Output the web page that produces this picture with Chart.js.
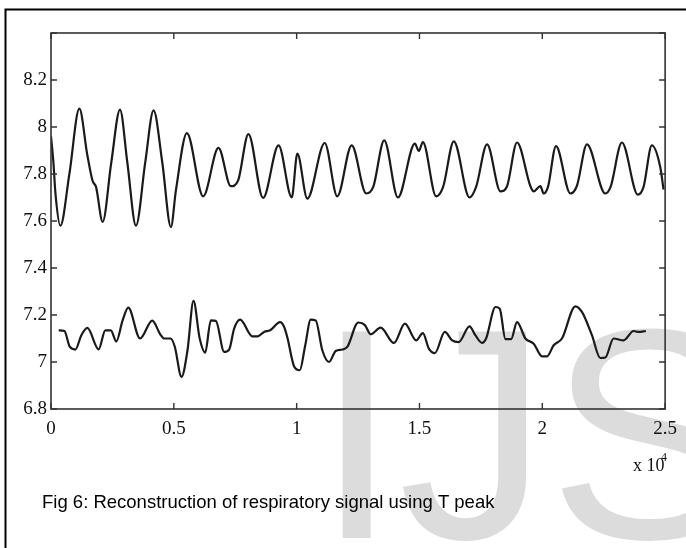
<!DOCTYPE html>
<html>
<head>
<meta charset="utf-8">
<script src="https://cdn.jsdelivr.net/npm/chart.js@4/dist/chart.umd.min.js"></script>
<style>
  html, body { margin: 0; padding: 0; background: #fff; }
  #wrap { width: 686px; height: 548px; position: relative; }
</style>
</head>
<body>
<div id="wrap"><canvas id="c" width="686" height="548"></canvas></div>
<script>
// Sample positions (samples) and values of the two reconstructed signals
const topX = [0, 98, 179, 382, 748, 1154, 1480, 1695, 1833, 2102, 2455, 2809, 3106, 3459, 3837, 4175, 4529, 4882, 5085, 5532, 6195, 6817, 7321, 7618, 8037, 8634, 9264, 9801, 10028, 10435, 11142, 11654, 12240, 12833, 13118, 13565, 14122, 14813, 14976, 15138, 15679, 15963, 16398, 17036, 17305, 17752, 18297, 18565, 18971, 19516, 19650, 19922, 20056, 20231, 20557, 21142, 21410, 21817, 22565, 22780, 23240, 23890, 24122, 24459, 24801, 24935];
const topY = [7.96, 7.85, 7.72, 7.58, 7.80, 8.078, 7.88, 7.77, 7.745, 7.596, 7.85, 8.074, 7.85, 7.58, 7.85, 8.071, 7.85, 7.574, 7.73, 7.974, 7.705, 7.911, 7.748, 7.773, 7.97, 7.698, 7.922, 7.70, 7.887, 7.695, 7.932, 7.705, 7.922, 7.717, 7.745, 7.943, 7.70, 7.929, 7.898, 7.936, 7.705, 7.745, 7.939, 7.70, 7.745, 7.926, 7.726, 7.748, 7.934, 7.748, 7.726, 7.748, 7.717, 7.745, 7.919, 7.717, 7.75, 7.926, 7.717, 7.745, 7.934, 7.712, 7.745, 7.922, 7.83, 7.734];
const bottomX = [313, 545, 768, 992, 1236, 1480, 1939, 2211, 2435, 2659, 2915, 3146, 3626, 4122, 4447, 4610, 4866, 5037, 5313, 5557, 5801, 6053, 6276, 6508, 6711, 7049, 7252, 7455, 7699, 8199, 8402, 8675, 8919, 9325, 9488, 9622, 9894, 10126, 10341, 10573, 10776, 11045, 11317, 11590, 11858, 12061, 12508, 12780, 13012, 13419, 13959, 14406, 14866, 15138, 15382, 15626, 16032, 16329, 16601, 17036, 17280, 17549, 17711, 18093, 18268, 18500, 18728, 18971, 19313, 19650, 19988, 20191, 20463, 20801, 21345, 21613, 22020, 22362, 22565, 22902, 23309, 23715, 23919, 24216];
const bottomY = [7.135, 7.132, 7.064, 7.053, 7.114, 7.145, 7.054, 7.135, 7.135, 7.088, 7.177, 7.231, 7.10, 7.176, 7.118, 7.10, 7.10, 7.066, 6.937, 7.05, 7.26, 7.10, 7.04, 7.177, 7.175, 7.043, 7.053, 7.142, 7.18, 7.109, 7.109, 7.128, 7.135, 7.17, 7.15, 7.104, 6.982, 6.965, 7.066, 7.18, 7.177, 7.05, 7.0, 7.047, 7.053, 7.064, 7.168, 7.157, 7.118, 7.146, 7.081, 7.163, 7.092, 7.123, 7.057, 7.038, 7.128, 7.092, 7.085, 7.152, 7.113, 7.081, 7.10, 7.234, 7.227, 7.097, 7.097, 7.17, 7.10, 7.078, 7.024, 7.024, 7.071, 7.10, 7.237, 7.213, 7.114, 7.017, 7.019, 7.10, 7.092, 7.132, 7.128, 7.132];
const xTickValues = [0, 5000, 10000, 15000, 20000, 25000];
const yTickValues = [6.8, 7.0, 7.2, 7.4, 7.6, 7.8, 8.0, 8.2, 8.4];
const xExponentLabel = ['x 10', '4'];
const captionText = 'Fig 6: Reconstruction of respiratory signal using T peak';
const watermarkText = 'IJS';

const toPoints = (xs, ys) => xs.map((x, i) => ({ x: x, y: ys[i] }));

const decorPlugin = {
  id: 'decor',
  beforeDraw(chart) {
    const ctx = chart.ctx;
    ctx.save();
    ctx.fillStyle = '#ffffff';
    ctx.fillRect(0, 0, chart.width, chart.height);
    // watermark
    ctx.fillStyle = '#dcdcdc';
    ctx.font = '300px "Liberation Sans", Arial, sans-serif';
    ctx.textBaseline = 'alphabetic';
    ctx.textAlign = 'left';
    ctx.fillText(watermarkText, 315, 538);
    ctx.restore();
  },
  afterDraw(chart) {
    const ctx = chart.ctx;
    const a = chart.chartArea;
    const xs = chart.scales.x, ys = chart.scales.y;
    ctx.save();
    // frame
    ctx.strokeStyle = '#333333';
    ctx.lineWidth = 1.6;
    ctx.strokeRect(a.left, a.top, a.right - a.left, a.bottom - a.top);
    // inward ticks
    ctx.lineWidth = 1.4;
    ctx.beginPath();
    xTickValues.forEach(v => {
      const px = xs.getPixelForValue(v);
      ctx.moveTo(px, a.bottom); ctx.lineTo(px, a.bottom - 6);
      ctx.moveTo(px, a.top); ctx.lineTo(px, a.top + 6);
    });
    yTickValues.forEach(v => {
      const py = ys.getPixelForValue(v);
      ctx.moveTo(a.left, py); ctx.lineTo(a.left + 6, py);
      ctx.moveTo(a.right, py); ctx.lineTo(a.right - 6, py);
    });
    ctx.stroke();
    // outer figure border
    ctx.strokeStyle = '#000000';
    ctx.lineWidth = 2;
    ctx.strokeRect(5.5, 9.5, 720, 600);
    // exponent label
    ctx.fillStyle = '#111111';
    ctx.textAlign = 'left';
    ctx.textBaseline = 'alphabetic';
    ctx.font = '18px "Liberation Serif", "Times New Roman", serif';
    ctx.fillText(xExponentLabel[0], 633, 471);
    ctx.font = '12px "Liberation Serif", "Times New Roman", serif';
    ctx.fillText(xExponentLabel[1], 661, 461);
    // caption
    ctx.fillStyle = '#000000';
    ctx.font = '18.5px "Liberation Sans", Arial, sans-serif';
    ctx.fillText(captionText, 42, 508);
    ctx.restore();
  }
};

const lineStyle = {
  borderColor: '#1a1a1a',
  borderWidth: 2.2,
  pointRadius: 0,
  fill: false,
  cubicInterpolationMode: 'monotone'
};

new Chart(document.getElementById('c'), {
  type: 'line',
  data: {
    datasets: [
      Object.assign({ label: 'upper', data: toPoints(topX, topY) }, lineStyle),
      Object.assign({ label: 'lower', data: toPoints(bottomX, bottomY) }, lineStyle)
    ]
  },
  options: {
    responsive: false,
    animation: false,
    devicePixelRatio: 1,
    layout: { padding: { top: 33, right: 20, left: 0, bottom: 0 } },
    plugins: { legend: { display: false }, tooltip: { enabled: false } },
    scales: {
      x: {
        type: 'linear',
        min: 0, max: 25000,
        afterFit(scale) { scale.height = 139; },
        afterBuildTicks(scale) { scale.ticks = xTickValues.map(v => ({ value: v })); },
        grid: { display: false, drawTicks: false },
        border: { display: false },
        ticks: {
          padding: 9,
          color: '#111111',
          font: { family: '"Liberation Serif", "Times New Roman", serif', size: 19 },
          callback: v => String(v / 10000)
        }
      },
      y: {
        min: 6.8, max: 8.4,
        afterFit(scale) { scale.width = 51; },
        afterBuildTicks(scale) { scale.ticks = yTickValues.map(v => ({ value: v })); },
        grid: { display: false, drawTicks: false },
        border: { display: false },
        ticks: {
          padding: 4,
          color: '#111111',
          font: { family: '"Liberation Serif", "Times New Roman", serif', size: 19 },
          callback: v => (Math.abs(v - 8.4) < 1e-6 ? '' : String(Number(v.toFixed(1))))
        }
      }
    }
  },
  plugins: [decorPlugin]
});
</script>
</body>
</html>
